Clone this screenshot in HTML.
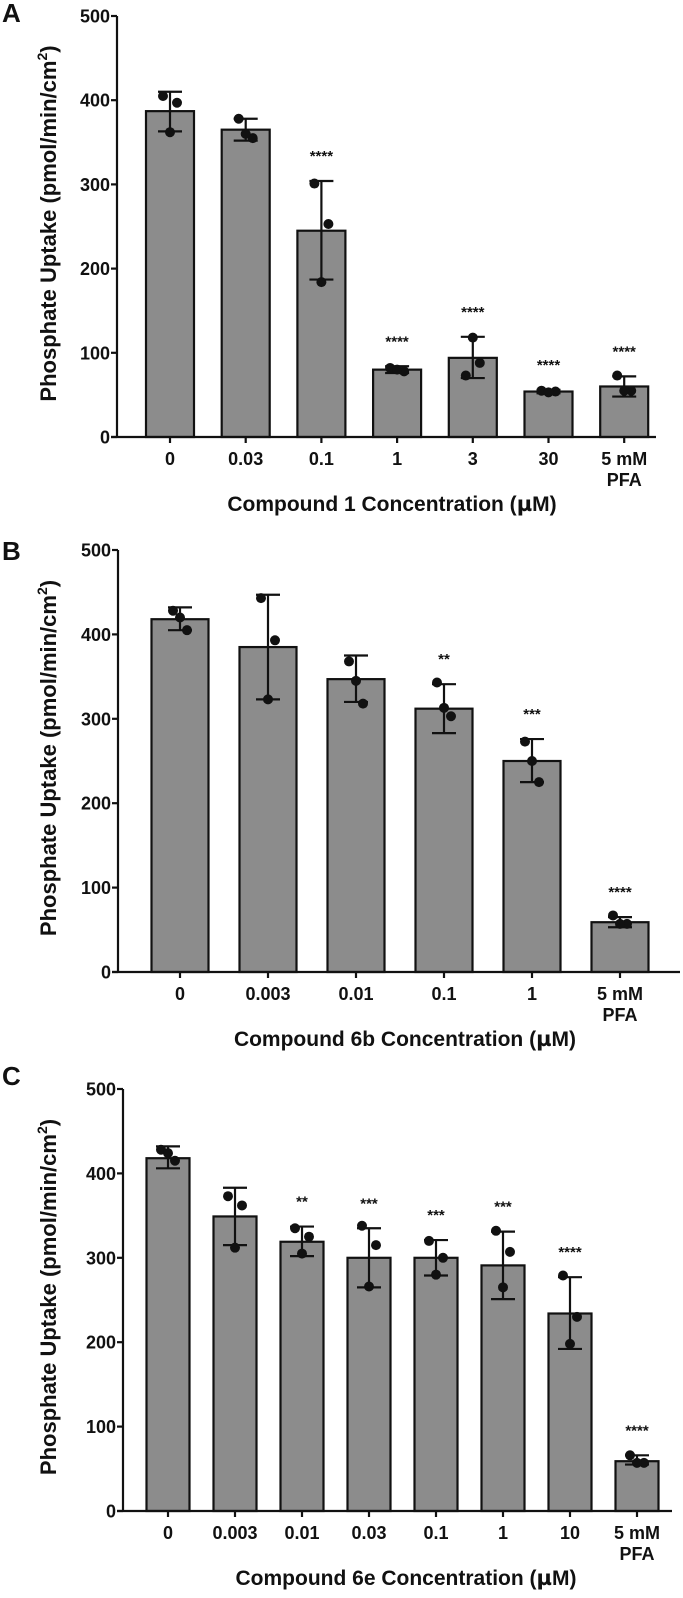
<!DOCTYPE html>
<html><head><meta charset="utf-8"><style>
body{margin:0;background:#fff}
svg text{font-family:"Liberation Sans",Arial,sans-serif;font-weight:bold;fill:#111}
</style></head><body>
<svg id="fig" width="683" height="1593" xmlns="http://www.w3.org/2000/svg"></svg>
<script>
const catsA=["0","0.03","0.1","1","3","30","5 mM|PFA"];
const meanA=[387,365,245,80,94,54,60];
const loA=[363,352,187,76,70,52,48];
const hiA=[410,378,304,84,119,56,72];
const ptsA=[[405,397,362],[378,355,360],[301,253,184],[82,78,80],[73,88,118],[55,54,53],[73,55,55]];
const starA=["","","****","****","****","****","****"];

const catsB=["0","0.003","0.01","0.1","1","5 mM|PFA"];
const meanB=[418,385,347,312,250,59];
const loB=[405,323,320,283,225,53];
const hiB=[432,447,375,341,276,65];
const ptsB=[[428,405,420],[443,393,323],[368,318,345],[343,303,313],[273,225,250],[67,57,57]];
const starB=["","","","**","***","****"];

const catsC=["0","0.003","0.01","0.03","0.1","1","10","5 mM|PFA"];
const meanC=[418,349,319,300,300,291,234,59];
const loC=[406,315,302,265,279,251,192,55];
const hiC=[432,383,337,335,321,331,277,66];
const ptsC=[[428,415,424],[373,362,312],[335,325,305],[338,315,266],[320,300,280],[332,307,265],[279,230,198],[66,57,57]];
const starC=["","","**","***","***","***","****","****"];

const yTicks=[0,100,200,300,400,500];
const NS="http://www.w3.org/2000/svg";
const svg=document.getElementById('fig');
function mk(tag,attrs,parent){const e=document.createElementNS(NS,tag);for(const k in attrs)e.setAttribute(k,attrs[k]);(parent||svg).appendChild(e);return e;}

function panel(p){
  const g=mk('g',{});
  
  
  const y=v=>p.y0-(v/500)*(p.y0-p.y500);
  const x=i=>p.c0+i*p.step;
  const L=mk('text',{x:2,y:p.ly,'font-size':26},g);L.textContent=p.letter;
  
  
  p.mean.forEach((m,i)=>{
    const r=mk('rect',{x:x(i)-p.bw/2,y:y(m),width:p.bw,height:y(0)-y(m),fill:'#8c8c8c',stroke:'#111','stroke-width':2.2},g);
    
    
  });
  p.mean.forEach((m,i)=>{
    const e=mk('g',{stroke:'#111','stroke-width':2.2},g);
    
    
    mk('line',{x1:x(i),x2:x(i),y1:y(p.lo[i]),y2:y(p.hi[i])},e);
    mk('line',{x1:x(i)-12,x2:x(i)+12,y1:y(p.lo[i]),y2:y(p.lo[i])},e);
    mk('line',{x1:x(i)-12,x2:x(i)+12,y1:y(p.hi[i]),y2:y(p.hi[i])},e);
  });
  p.pts.forEach((arr,i)=>{
    const offs=[-7,7,0];
    arr.forEach((v,j)=>{
      const c=mk('circle',{cx:x(i)+offs[j],cy:y(v),r:5,fill:'#111'},g);
      
      
    });
  });
  p.star.forEach((s,i)=>{
    if(!s)return;
    const t=mk('text',{x:x(i),y:y(p.hi[i])-20,'font-size':15,'text-anchor':'middle','font-weight':'normal'},g);
    t.textContent=s;
    
    
  });
  const ax=mk('g',{stroke:'#111','stroke-width':2.2},g);
  
  
  mk('line',{x1:p.ax,x2:p.ax,y1:p.y500,y2:p.y0+1},ax);
  mk('line',{x1:p.ax-6,x2:p.xend,y1:p.y0,y2:p.y0},ax);
  yTicks.forEach(v=>{
    mk('line',{x1:p.ax-6,x2:p.ax,y1:y(v),y2:y(v)},ax);
    const t=mk('text',{x:p.ax-7,y:y(v)+6.5,'font-size':18,'text-anchor':'end'},g);
    t.textContent=v;
    
    
  });
  p.cats.forEach((c,i)=>{
    mk('line',{x1:x(i),x2:x(i),y1:p.y0,y2:p.y0+6},ax);
    c.split('|').forEach((s,k)=>{
      const t=mk('text',{x:x(i),y:p.y0+28+k*21,'font-size':18,'text-anchor':'middle'},g);
      t.textContent=s;
      
      
    });
  });
  const xt=mk('text',{x:p.xtx,y:p.y0+74,'font-size':21,'text-anchor':'middle'},g);
  xt.innerHTML=p.title+' Concentration (<tspan font-family="DejaVu Sans">µ</tspan>M)';
  
  
  const cy=(p.y0+p.y500)/2-3;
  const yt=mk('text',{x:0,y:0,'font-size':22,'text-anchor':'middle',transform:`translate(56,${cy}) rotate(-90)`},g);
  yt.innerHTML='Phosphate Uptake (pmol/min/cm<tspan dy="-9" font-size="14">2</tspan><tspan dy="9">)</tspan>';
  
  
}
panel({letter:'A',ly:22,cats:catsA,mean:meanA,lo:loA,hi:hiA,pts:ptsA,star:starA,y0:437,y500:16,ax:117,xend:656,c0:170,step:75.7,bw:48,title:'Compound 1',xtx:392});
panel({letter:'B',ly:560,cats:catsB,mean:meanB,lo:loB,hi:hiB,pts:ptsB,star:starB,y0:972,y500:550,ax:118,xend:680,c0:180,step:88,bw:57,title:'Compound 6b',xtx:405});
panel({letter:'C',ly:1085,cats:catsC,mean:meanC,lo:loC,hi:hiC,pts:ptsC,star:starC,y0:1511,y500:1089,ax:123,xend:672,c0:168,step:67,bw:43,title:'Compound 6e',xtx:406});
</script>
</body></html>
